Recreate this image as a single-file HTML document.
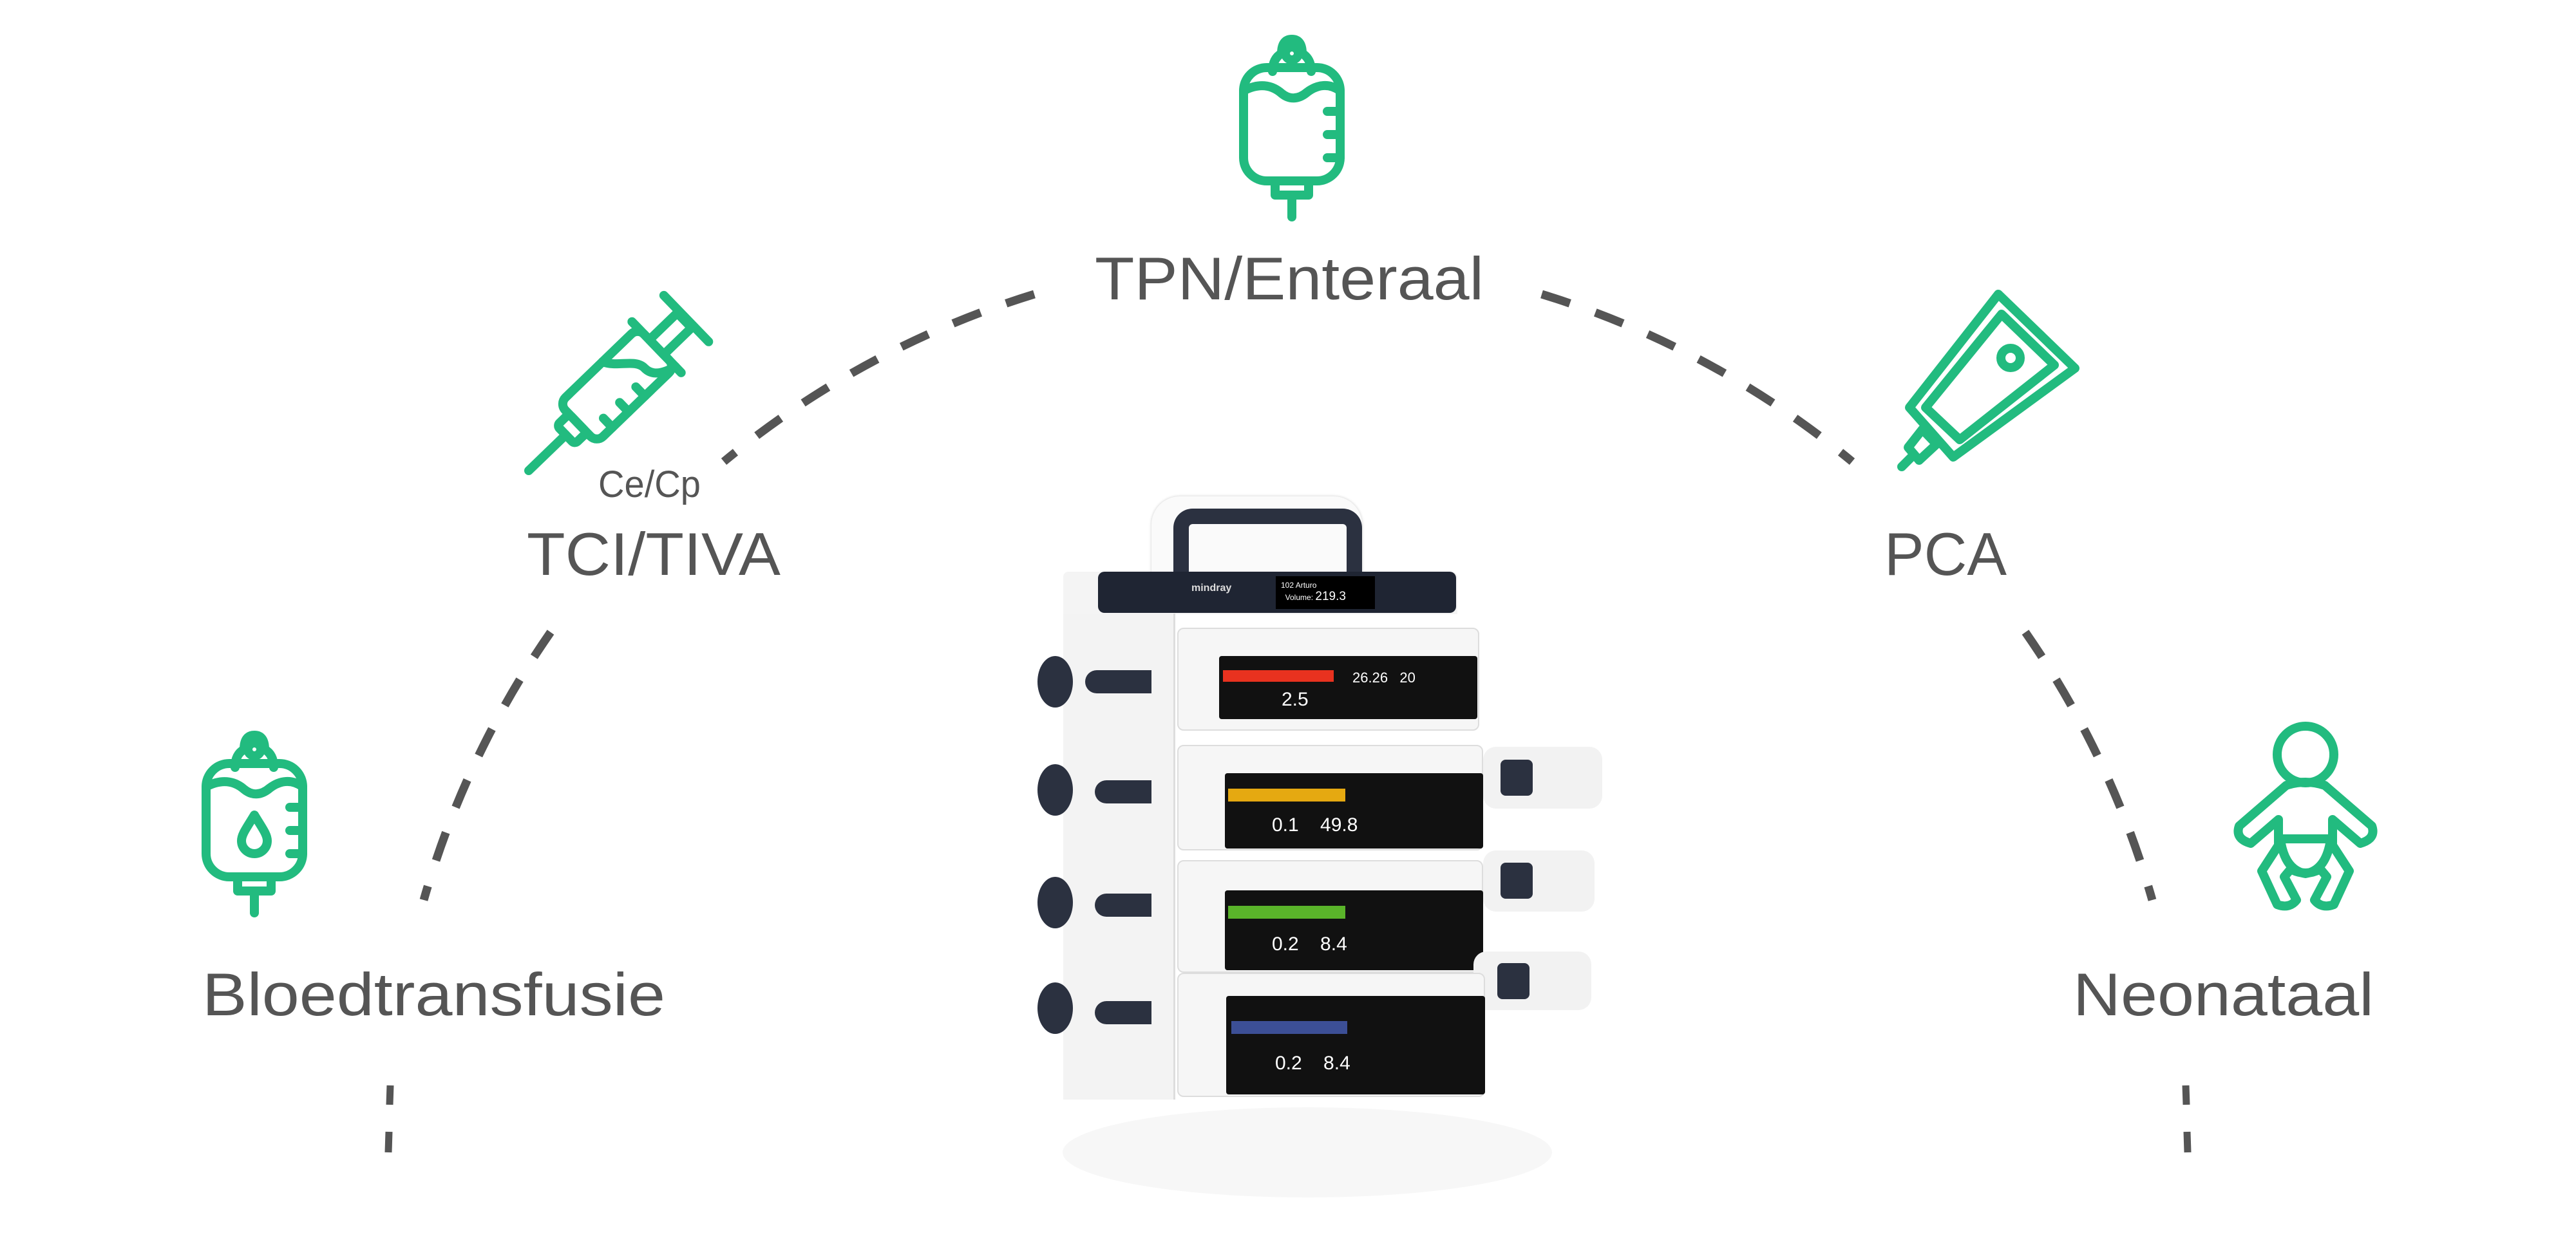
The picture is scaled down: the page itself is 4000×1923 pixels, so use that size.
<!DOCTYPE html>
<html><head><meta charset="utf-8"><style>
html,body{margin:0;padding:0;background:#fff;}
body{width:4000px;height:1923px;position:relative;overflow:hidden;font-family:"Liberation Sans",sans-serif;}
.a{position:absolute;box-sizing:border-box;}
.k{background:#2b3140;}
</style></head><body>
<svg class="a" style="left:0;top:0" width="4000" height="1923" viewBox="0 0 4000 1923">
<ellipse cx="2030" cy="1790" rx="380" ry="70" fill="#f7f7f7"/>
<g fill="none" stroke="#555" stroke-width="13" stroke-dasharray="46 42">
<path d="M1606,457 A1400,1400 0 0 0 1124,717"/>
<path d="M2394,457 A1400,1400 0 0 1 2876,717"/>
<path d="M855,982 A1400,1400 0 0 0 658,1398"/>
<path d="M3145,982 A1400,1400 0 0 1 3342,1398"/>
</g>
<g stroke="#555" stroke-width="11">
<line x1="606" y1="1686" x2="605" y2="1716"/><line x1="604" y1="1758" x2="603" y2="1790"/>
<line x1="3394" y1="1686" x2="3395" y2="1716"/><line x1="3396" y1="1758" x2="3397" y2="1790"/>
</g>
<g fill="#555" font-family="Liberation Sans, sans-serif">
<text x="1700" y="465" font-size="94" textLength="604" lengthAdjust="spacingAndGlyphs">TPN/Enteraal</text>
<text x="929" y="772" font-size="58" textLength="159" lengthAdjust="spacingAndGlyphs">Ce/Cp</text>
<text x="818" y="893" font-size="94" textLength="394" lengthAdjust="spacingAndGlyphs">TCI/TIVA</text>
<text x="2926" y="893" font-size="94" textLength="190" lengthAdjust="spacingAndGlyphs">PCA</text>
<text x="314" y="1577" font-size="94" textLength="719" lengthAdjust="spacingAndGlyphs">Bloedtransfusie</text>
<text x="3219" y="1577" font-size="94" textLength="467" lengthAdjust="spacingAndGlyphs">Neonataal</text>
</g>
<defs>
<g id="bag">
<circle cx="82" cy="38" r="10"/>
<path d="M52,66 Q52,46 66,38 Q66,16 82,16 Q98,16 98,38 Q112,46 112,66"/>
<rect x="7" y="60" width="150" height="176" rx="36"/>
<path d="M7,96 C30,84 50,86 66,100 C78,110 92,110 106,98 C122,86 140,84 157,96"/>
<rect x="56" y="236" width="52" height="22"/>
<line x1="82" y1="258" x2="82" y2="292"/>
</g>
</defs>
<g fill="none" stroke="#22bb7f" stroke-width="14" stroke-linecap="round" stroke-linejoin="round">
<g transform="translate(1924,45)"><use href="#bag"/>
<line x1="137" y1="128" x2="157" y2="128"/><line x1="137" y1="164" x2="157" y2="164"/><line x1="137" y1="200" x2="157" y2="200"/></g>
<g transform="translate(313,1126)"><use href="#bag"/>
<line x1="137" y1="128" x2="157" y2="128"/><line x1="137" y1="164" x2="157" y2="164"/><line x1="137" y1="200" x2="157" y2="200"/>
<path d="M82,140 C70,160 62,170 62,180 A20,20 0 0 0 102,180 C102,170 94,160 82,140Z"/></g>
<g transform="translate(821,731) rotate(-44)">
<line x1="0" y1="0" x2="80" y2="0"/>
<rect x="80" y="-20" width="26" height="40" rx="6"/>
<rect x="106" y="-42" width="170" height="84" rx="14"/>
<path d="M200,-42 C210,-20 240,-10 240,10 C240,25 250,35 276,42"/>
<line x1="140" y1="42" x2="140" y2="22"/><line x1="175" y1="42" x2="175" y2="22"/><line x1="210" y1="42" x2="210" y2="22"/>
<line x1="276" y1="-55" x2="276" y2="55"/>
<rect x="276" y="-16" width="60" height="32"/>
<line x1="340" y1="-50" x2="340" y2="50"/>
</g>
<!-- pouch -->
<polygon points="2965,633 3103,457 3222,572 3033,710"/>
<polygon points="2990,633 3108,488 3190,567 3043,683"/>
<circle cx="3122" cy="556" r="15"/>
<polygon points="2985,667 3007,690 2980,715 2963,695"/>
<line x1="2953" y1="725" x2="2968" y2="710"/>
<!-- baby -->
<circle cx="3580" cy="1172" r="44"/>
<path d="M3550,1220 Q3580,1210 3610,1220 L3683,1283 Q3690,1303 3665,1310 L3622,1273 L3622,1313 L3648,1353 L3624,1405 Q3605,1412 3594,1398 L3613,1362 L3603,1350 Q3580,1362 3557,1350 L3547,1362 L3566,1398 Q3555,1412 3536,1405 L3512,1353 L3538,1313 L3538,1273 L3495,1310 Q3470,1303 3477,1283 Z"/>
<line x1="3540" y1="1303" x2="3620" y2="1303"/>
<path d="M3542,1310 Q3550,1352 3580,1357 Q3610,1352 3618,1310"/>
</g>
</svg>

<!-- device -->
<div class="a" style="left:1788px;top:771px;width:327px;height:120px;background:#fafafa;border-radius:44px 44px 0 0;box-shadow:0 0 4px #ccc;"></div>
<div class="a" style="left:1822px;top:790px;width:293px;height:100px;border:24px solid #2b3140;border-bottom:none;border-radius:30px 30px 0 0;"></div>
<div class="a" style="left:1651px;top:888px;width:612px;height:66px;background:#f4f4f4;border-radius:8px 8px 0 0;"></div>
<div class="a" style="left:1705px;top:888px;width:556px;height:64px;background:#1f2533;border-radius:10px;"></div>
<div class="a" style="left:1850px;top:905px;color:#ddd;font-size:16px;font-weight:bold;">mindray</div>
<div class="a" style="left:1981px;top:895px;width:154px;height:51px;background:#000;color:#fff;font-size:12px;padding:5px 8px;line-height:18px;">102 Arturo<br>&nbsp;&nbsp;Volume: <span style="font-size:19px">219.3</span></div>
<div class="a" style="left:1651px;top:953px;width:174px;height:755px;background:#f3f3f3;border-right:3px solid #ddd;"></div>
<!-- knobs -->
<div class="a k" style="left:1611px;top:1019px;width:55px;height:80px;border-radius:50%;"></div>
<div class="a k" style="left:1685px;top:1041px;width:103px;height:36px;border-radius:20px 0 0 20px;"></div>
<div class="a k" style="left:1611px;top:1187px;width:55px;height:80px;border-radius:50%;"></div>
<div class="a k" style="left:1700px;top:1212px;width:88px;height:36px;border-radius:20px 0 0 20px;"></div>
<div class="a k" style="left:1611px;top:1362px;width:55px;height:80px;border-radius:50%;"></div>
<div class="a k" style="left:1700px;top:1388px;width:88px;height:36px;border-radius:20px 0 0 20px;"></div>
<div class="a k" style="left:1611px;top:1526px;width:55px;height:80px;border-radius:50%;"></div>
<div class="a k" style="left:1700px;top:1555px;width:88px;height:36px;border-radius:20px 0 0 20px;"></div>
<!-- modules -->
<div class="a" style="left:1828px;top:975px;width:469px;height:160px;background:#f6f6f6;border:2px solid #ddd;border-radius:10px;"></div>
<div class="a" style="left:1893px;top:1019px;width:401px;height:98px;background:#111;border-radius:4px;"></div>
<div class="a" style="left:1899px;top:1041px;width:172px;height:18px;background:#e8321f;"></div>
<div class="a" style="left:1990px;top:1070px;color:#fff;font-size:30px;">2.5</div>
<div class="a" style="left:2100px;top:1040px;color:#fff;font-size:22px;">26.26 &nbsp; 20</div>

<div class="a" style="left:2303px;top:1160px;width:185px;height:96px;background:#f2f2f2;border-radius:20px;"></div>
<div class="a k" style="left:2330px;top:1180px;width:50px;height:56px;border-radius:8px;"></div>
<div class="a" style="left:1828px;top:1157px;width:475px;height:164px;background:#f6f6f6;border:2px solid #ddd;border-radius:10px;"></div>
<div class="a" style="left:1902px;top:1201px;width:401px;height:117px;background:#111;border-radius:4px;"></div>
<div class="a" style="left:1907px;top:1225px;width:182px;height:20px;background:#e5a911;"></div>
<div class="a" style="left:1975px;top:1265px;color:#fff;font-size:30px;">0.1 &nbsp;&nbsp; 49.8</div>

<div class="a" style="left:2303px;top:1321px;width:173px;height:95px;background:#f2f2f2;border-radius:20px;"></div>
<div class="a k" style="left:2330px;top:1340px;width:50px;height:56px;border-radius:8px;"></div>
<div class="a" style="left:1828px;top:1336px;width:475px;height:175px;background:#f6f6f6;border:2px solid #ddd;border-radius:10px;"></div>
<div class="a" style="left:1902px;top:1383px;width:401px;height:124px;background:#111;border-radius:4px;"></div>
<div class="a" style="left:1907px;top:1407px;width:182px;height:20px;background:#5ab42a;"></div>
<div class="a" style="left:1975px;top:1450px;color:#fff;font-size:30px;">0.2 &nbsp;&nbsp; 8.4</div>

<div class="a" style="left:2288px;top:1478px;width:183px;height:91px;background:#f2f2f2;border-radius:20px;"></div>
<div class="a k" style="left:2325px;top:1496px;width:50px;height:56px;border-radius:8px;"></div>
<div class="a" style="left:1828px;top:1511px;width:478px;height:193px;background:#f6f6f6;border:2px solid #ddd;border-radius:10px;"></div>
<div class="a" style="left:1904px;top:1547px;width:402px;height:153px;background:#111;border-radius:4px;"></div>
<div class="a" style="left:1912px;top:1586px;width:180px;height:20px;background:#3c4f96;"></div>
<div class="a" style="left:1980px;top:1635px;color:#fff;font-size:30px;">0.2 &nbsp;&nbsp; 8.4</div>
</body></html>
